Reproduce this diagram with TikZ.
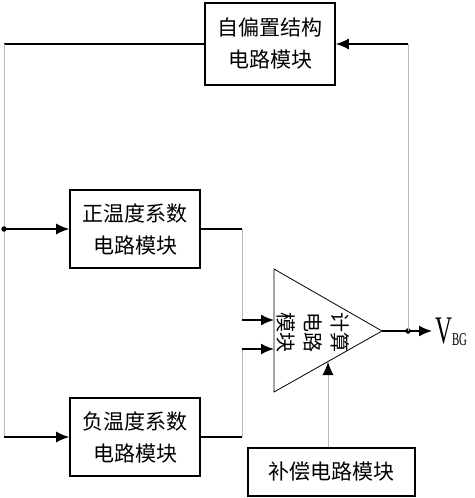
\documentclass[tikz,border=0pt]{standalone}
\usepackage{fontspec}
\setmainfont{Liberation Serif}
\newfontfamily\cjk{Noto Sans CJK SC}
\usetikzlibrary{arrows.meta}

\tikzset{
  modbox/.style={draw, line width=1.6pt, inner sep=0pt, align=center,
    font=\cjk\fontsize{21}{32}\selectfont},
  wire/.style={line width=1.6pt},
  feed/.style={line width=0.8pt, draw=black!28},
  arr/.style={wire, -{Latex[length=13pt,width=11pt]}},
  feedarr/.style={feed, -{Latex[length=13pt,width=11pt,color=black]}},
  junction/.style={circle, fill, inner sep=0pt, minimum size=5.5pt},
}

\begin{document}
\begin{tikzpicture}[x=1pt, y=-1pt]
    \useasboundingbox (0,0) rectangle (474,498);

    % blocks
    \node[modbox, minimum width=130pt, minimum height=82pt] (bias) at (270,44) {自偏置结构\\电路模块};
    \node[modbox, minimum width=130pt, minimum height=78pt] (pos) at (135,229) {正温度系数\\电路模块};
    \node[modbox, minimum width=130pt, minimum height=78pt] (neg) at (135,437) {负温度系数\\电路模块};
    \node[modbox, minimum width=167pt, minimum height=48pt] (comp) at (331.5,472) {补偿电路模块};

    % calculation block
    \draw[line width=0.8pt] (274,269) coordinate (ttop) -- (382,331) coordinate (tip)
        -- (274,392) coordinate (tbot) -- cycle;
    \node[rotate=-90, align=center, font=\cjk\fontsize{20}{27}\selectfont] (calc) at (313,332) {计算\\电路\\模块};
    \coordinate (in1) at (274,320);
    \coordinate (in2) at (274,349);
    \coordinate (cin) at (328,362);

    % left feed
    \coordinate (tl) at (4,44);
    \coordinate (bl) at (4,437);
    \draw[wire] (bias.west) -- (tl);
    \draw[feed] (tl) -- (bl);
    \draw[arr] (pos.west -| tl) -- (pos.west);
    \draw[arr] (bl) -- (neg.west);
    \node[junction] (lj) at (pos.west -| tl) {};

    % block outputs into the calculation block
    \coordinate (pj) at (242,229);
    \coordinate (nj) at (242,437);
    \draw[wire] (pos.east) -- (pj);
    \draw[feed] (pj) -- (pj |- in1);
    \draw[arr] (pj |- in1) -- (in1);
    \draw[wire] (neg.east) -- (nj);
    \draw[feed] (nj) -- (nj |- in2);
    \draw[arr] (nj |- in2) -- (in2);
    \draw[feedarr] (cin |- comp.north) -- (cin);

    % output and feedback
    \coordinate (out) at (408,331);
    \coordinate (vend) at (432,331);
    \draw[wire] (tip) -- (out);
    \draw[arr] (out) -- (vend);
    \node[junction] (oj) at (out) {};
    \draw[feed] (out) -- (out |- bias.east);
    \draw[arr] (out |- bias.east) -- (bias.east);
    \node[anchor=west, inner sep=0pt, xscale=0.6] (vbg) at (435,331.5)
        {\fontsize{39}{39}\selectfont V\raisebox{-2pt}{\fontsize{18}{18}\selectfont BG}};

\end{tikzpicture}
\end{document}
